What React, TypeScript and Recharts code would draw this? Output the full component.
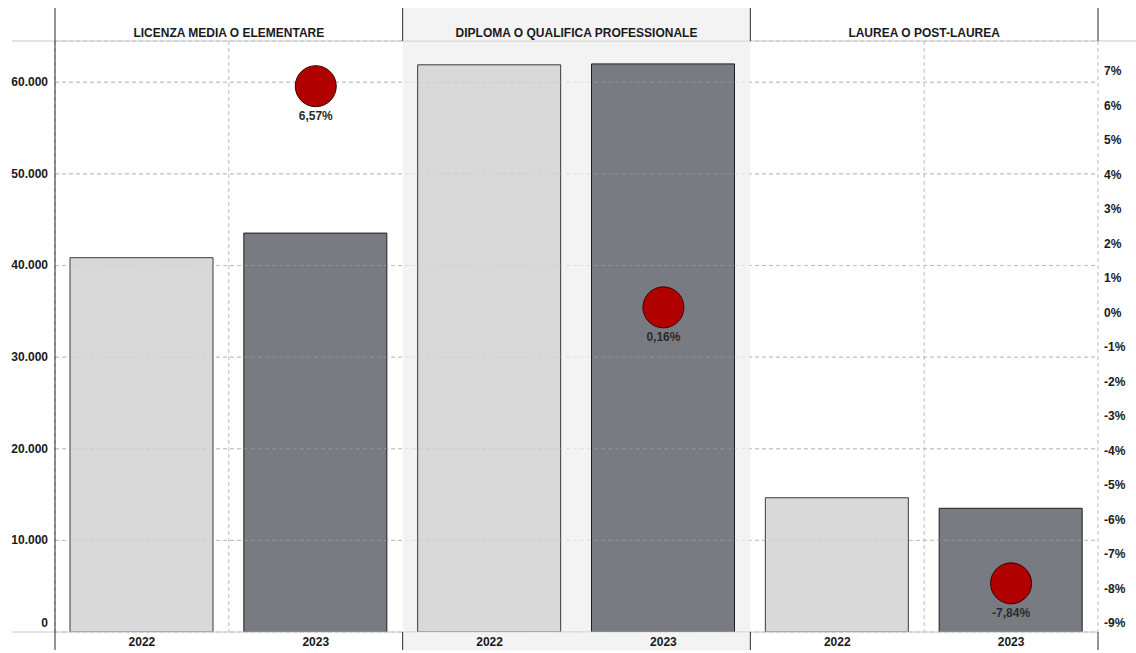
import React from "react";
import {
  Bar,
  CartesianGrid,
  Cell,
  ComposedChart,
  ReferenceArea,
  ReferenceLine,
  Scatter,
  XAxis,
  YAxis,
} from "recharts";

const PANELS = [
  "LICENZA MEDIA O ELEMENTARE",
  "DIPLOMA O QUALIFICA PROFESSIONALE",
  "LAUREA O POST-LAUREA",
];
const YEARS = ["2022", "2023"];
const VALUES_2022 = [40850, 61900, 14650];
const VALUES_2023 = [43534, 61999, 13502];
const CHANGE_PCT = [6.57, 0.16, -7.84];
const LEFT_TICKS = [0, 10000, 20000, 30000, 40000, 50000, 60000];
const RIGHT_TICKS = [-9, -8, -7, -6, -5, -4, -3, -2, -1, 0, 1, 2, 3, 4, 5, 6, 7];

const W = 1136;
const H = 653;
const PLOT_LEFT = 55;
const PLOT_RIGHT = 1098;
const PLOT_TOP = 41;
const PLOT_BOTTOM = 632;
const HEADER_TOP = 8;
const FOOTER_BOTTOM = 650;
const PANEL_W = (PLOT_RIGHT - PLOT_LEFT) / PANELS.length;
const BAND_W = PANEL_W / YEARS.length;

const FONT = "'Liberation Sans', Arial, sans-serif";
const TEXT = "#1a1a1a";
const SHADE = "#f3f3f3";
const FRAME = "#c8c8c8";
const EDGE = "#2a2a2a";
const GRID = "#bcbcbc";
const BAR_FILL: Record<string, string> = { "2022": "#d9d9d9", "2023": "#797b83" };
const BAR_STROKE: Record<string, string> = { "2022": "#3a3a3a", "2023": "#1e1e1e" };

const rows = PANELS.flatMap((panel, i) =>
  YEARS.map((year) => ({
    key: `${i}-${year}`,
    panelIndex: i,
    panel,
    year,
    value: year === "2022" ? VALUES_2022[i] : VALUES_2023[i],
    pct: year === "2023" ? CHANGE_PCT[i] : null,
  }))
);

const formatThousands = (v: number) => String(v).replace(/\B(?=(\d{3})+(?!\d))/g, ".");
const formatPct = (v: number) => `${v.toFixed(2).replace(".", ",")}%`;

// header strip: title, separators, shading of the middle panel, outer frame lines
function PanelTick(props: any) {
  const { x, payload, index } = props;
  const left = x - PANEL_W / 2;
  const right = x + PANEL_W / 2;
  return (
    <g>
      {index === 1 && (
        <rect x={left} y={HEADER_TOP} width={PANEL_W} height={PLOT_TOP - HEADER_TOP - 0.5} fill={SHADE} />
      )}
      {index === 0 && (
        <>
          <line x1={12} x2={W} y1={PLOT_TOP} y2={PLOT_TOP} stroke={FRAME} />
          <line x1={12} x2={PLOT_RIGHT} y1={PLOT_BOTTOM} y2={PLOT_BOTTOM} stroke={FRAME} />
          <line x1={PLOT_LEFT} x2={PLOT_LEFT} y1={HEADER_TOP} y2={FOOTER_BOTTOM} stroke={EDGE} />
        </>
      )}
      {index > 0 && <line x1={left} x2={left} y1={HEADER_TOP} y2={PLOT_TOP} stroke={EDGE} />}
      {index === PANELS.length - 1 && (
        <line x1={right} x2={right} y1={HEADER_TOP} y2={PLOT_TOP} stroke={EDGE} />
      )}
      <text
        x={x}
        y={37}
        textAnchor="middle"
        fontFamily={FONT}
        fontSize={12}
        fontWeight={700}
        fill={TEXT}
      >
        {payload.value}
      </text>
    </g>
  );
}

// footer strip: year label, separators and shading
function YearTick(props: any) {
  const { x, payload, index } = props;
  const left = x - BAND_W / 2;
  const right = x + BAND_W / 2;
  const panelIndex = Math.floor(index / YEARS.length);
  return (
    <g>
      {panelIndex === 1 && (
        <rect x={left} y={PLOT_BOTTOM + 0.5} width={BAND_W} height={FOOTER_BOTTOM - PLOT_BOTTOM} fill={SHADE} />
      )}
      {index % YEARS.length === 0 && index > 0 && (
        <line x1={left} x2={left} y1={PLOT_BOTTOM} y2={FOOTER_BOTTOM} stroke={EDGE} />
      )}
      {index === rows.length - 1 && (
        <line x1={right} x2={right} y1={PLOT_BOTTOM} y2={FOOTER_BOTTOM} stroke={EDGE} />
      )}
      <text
        x={x}
        y={646}
        textAnchor="middle"
        fontFamily={FONT}
        fontSize={12}
        fontWeight={700}
        fill={TEXT}
      >
        {String(payload.value).split("-")[1]}
      </text>
    </g>
  );
}

function LeftTick(props: any) {
  const { x, y, payload } = props;
  return (
    <text
      x={x}
      y={y}
      dy={payload.value === 0 ? -5 : 4}
      textAnchor="end"
      fontFamily={FONT}
      fontSize={12}
      fontWeight={700}
      fill={TEXT}
    >
      {formatThousands(payload.value)}
    </text>
  );
}

function RightTick(props: any) {
  const { x, y, payload } = props;
  return (
    <text x={x + 2} y={y} dy={4} textAnchor="start" fontFamily={FONT} fontSize={12} fontWeight={700} fill={TEXT}>
      {`${payload.value}%`}
    </text>
  );
}

function ChangeDot(props: any) {
  const { cx, cy, payload } = props;
  if (payload?.pct == null || cx == null || cy == null) return <g />;
  return (
    <g>
      <circle cx={cx} cy={cy} r={20.5} fill="#b00000" stroke="#3a0000" strokeWidth={1} />
      <text
        x={cx}
        y={cy + 34}
        textAnchor="middle"
        fontFamily={FONT}
        fontSize={12}
        fontWeight={700}
        fill="#2b2b2b"
      >
        {formatPct(payload.pct)}
      </text>
    </g>
  );
}

export default function App() {
  return (
    <div style={{ position: "absolute", left: 0, top: 0, width: W, height: H, background: "#fff" }}>
      <ComposedChart
        width={W}
        height={H}
        data={rows}
        margin={{ top: HEADER_TOP, right: 0, bottom: 3, left: 0 }}
      >
        <XAxis
          xAxisId="panel"
          dataKey="panel"
          orientation="top"
          allowDuplicatedCategory={false}
          height={PLOT_TOP - HEADER_TOP}
          axisLine={false}
          tickLine={false}
          interval={0}
          tick={<PanelTick />}
        />
        <XAxis
          xAxisId="year"
          dataKey="key"
          height={18}
          axisLine={false}
          tickLine={false}
          interval={0}
          tick={<YearTick />}
        />
        <YAxis
          yAxisId="left"
          width={PLOT_LEFT}
          domain={[0, 64500]}
          ticks={LEFT_TICKS}
          allowDataOverflow
          axisLine={false}
          tickLine={false}
          tickSize={0}
          tickMargin={7}
          tick={<LeftTick />}
        />
        <YAxis
          yAxisId="right"
          orientation="right"
          width={W - PLOT_RIGHT}
          domain={[-9.25, 7.88]}
          ticks={RIGHT_TICKS}
          allowDataOverflow
          axisLine={false}
          tickLine={false}
          tickSize={0}
          tickMargin={4}
          tick={<RightTick />}
        />
        <ReferenceArea
          xAxisId="panel"
          yAxisId="left"
          x1={PANELS[1]}
          x2={PANELS[1]}
          fill={SHADE}
          fillOpacity={1}
          stroke="none"
        />
        <CartesianGrid
          xAxisId="panel"
          yAxisId="left"
          strokeDasharray="4 3"
          stroke={GRID}
          fill="none"
        />
        <Bar xAxisId="year" yAxisId="left" dataKey="value" barSize={143} isAnimationActive={false}>
          {rows.map((r) => (
            <Cell key={r.key} fill={BAR_FILL[r.year]} stroke={BAR_STROKE[r.year]} strokeWidth={1} />
          ))}
        </Bar>
        {/* faint repeat of the horizontal grid drawn over the bars */}
        {LEFT_TICKS.slice(1).map((v) => (
          <ReferenceLine
            key={v}
            xAxisId="year"
            yAxisId="left"
            y={v}
            stroke={GRID}
            strokeOpacity={0.35}
            strokeDasharray="4 3"
          />
        ))}
        <Scatter
          xAxisId="year"
          yAxisId="right"
          dataKey="pct"
          shape={<ChangeDot />}
          isAnimationActive={false}
        />
      </ComposedChart>
    </div>
  );
}
